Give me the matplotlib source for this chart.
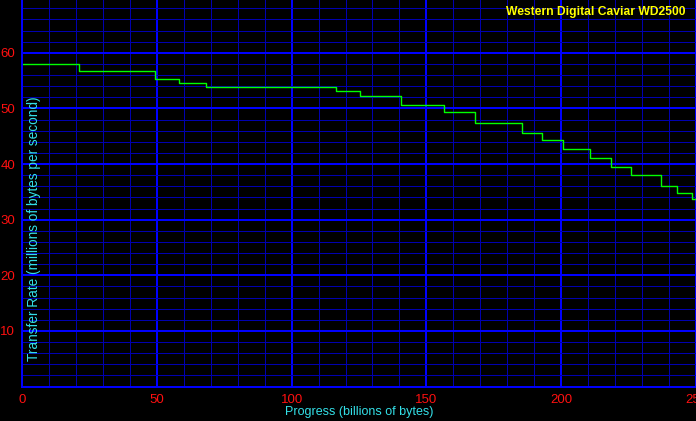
import matplotlib
matplotlib.use('Agg')
import matplotlib.pyplot as plt

# Transfer rate steps (billions of bytes -> MB/s)
step_x = [0, 21.3, 49.5, 58.3, 68.2, 116.6, 125.5, 140.6, 156.5, 168.1,
          185.5, 192.7, 200.5, 210.7, 218.6, 225.8, 237.2, 242.8, 248.4, 250]
step_rate = [58.0, 56.8, 55.3, 54.5, 53.8, 53.1, 52.3, 50.6, 49.3, 47.4,
             45.6, 44.3, 42.7, 41.1, 39.5, 38.0, 36.0, 34.8, 33.7, 33.7]

x_ticks = [0, 50, 100, 150, 200, 250]
y_ticks = [10, 20, 30, 40, 50, 60]

title = 'Western Digital Caviar WD2500'
x_label = 'Progress (billions of bytes)'
y_label = 'Transfer Rate (millions of bytes per second)'

font = 'Liberation Sans'
red = '#ff1010'
cyan = '#33e0e8'

fig = plt.figure(figsize=(6.96, 4.21), dpi=100, facecolor='black')
ax = fig.add_axes([22 / 696, 34.4 / 421, 674 / 696, 386.6 / 421], facecolor='black')

ax.set_xlim(0, 250)
ax.set_ylim(0, 69.5)

# grid: dim minor lines, bright major lines
ax.set_xticks(x_ticks)
ax.set_xticks([v for v in range(0, 251, 10) if v % 50], minor=True)
ax.set_yticks(y_ticks)
ax.set_yticks([v for v in range(0, 70, 2) if v % 10], minor=True)
ax.grid(which='minor', color='#0000b0', linewidth=0.6, antialiased=False)
ax.grid(which='major', color='#0000ff', linewidth=1.4, antialiased=False)
ax.set_axisbelow(True)

ax.tick_params(which='both', length=0)
ax.tick_params(axis='x', colors=red, labelsize=9.5, pad=5)
ax.tick_params(axis='y', colors=red, labelsize=9.5, pad=5)
for lab in ax.get_xticklabels() + ax.get_yticklabels():
    lab.set_fontfamily(font)

for side in ['top', 'right']:
    ax.spines[side].set_visible(False)
for side in ['left', 'bottom']:
    ax.spines[side].set_color('#0000ff')
    ax.spines[side].set_linewidth(1.4)

ax.plot(step_x, step_rate, drawstyle='steps-post', color='#00ff00', linewidth=1)

ax.set_xlabel(x_label, color=cyan, fontsize=9, family=font, labelpad=0)
ax.text(0.018, 0.408, y_label, transform=ax.transAxes, rotation=90,
        ha='center', va='center', color=cyan, fontsize=9.8, family=font)
ax.text(0.985, 0.985, title, transform=ax.transAxes, ha='right', va='top',
        color='#ffff00', fontsize=8.7, fontweight='bold', family=font)

fig.savefig('out.png', dpi=100, facecolor='black')
